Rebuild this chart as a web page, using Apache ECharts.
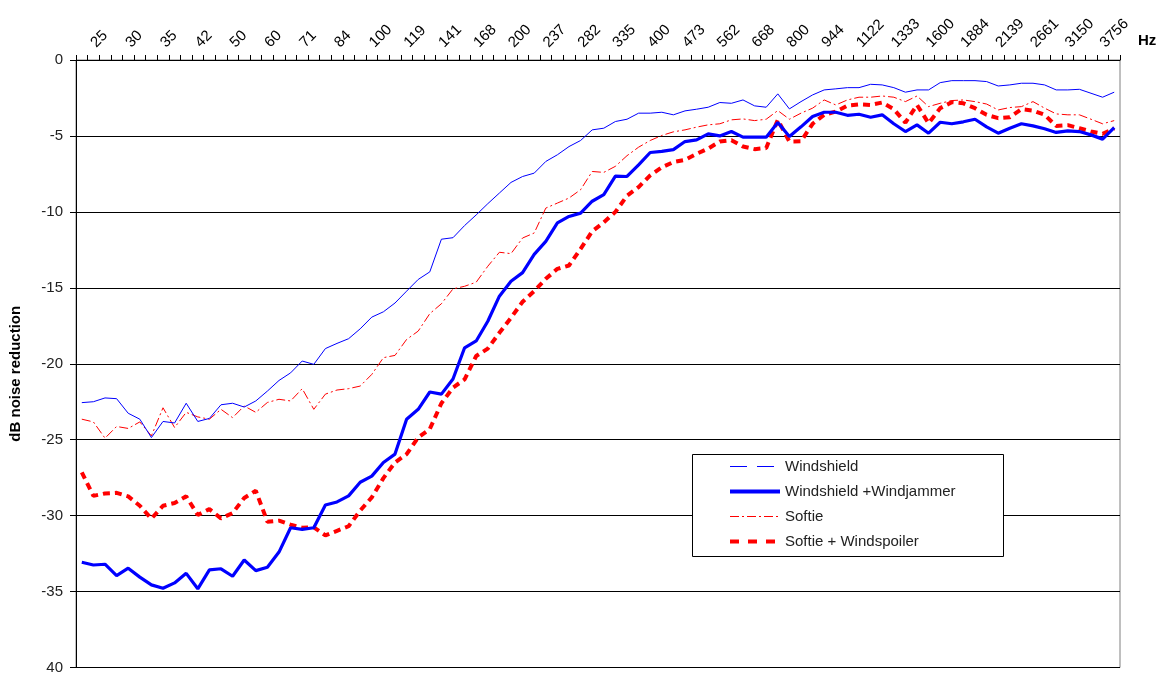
<!DOCTYPE html>
<html>
<head>
<meta charset="utf-8">
<script src="https://cdn.jsdelivr.net/npm/echarts@6/dist/echarts.min.js"></script>
<style>
html,body{margin:0;padding:0;background:#fff;}
#chart{width:1168px;height:675px;}
</style>
</head>
<body>
<div id="chart"></div>
<script>
// ---- data ----
const tickLabels = ['25','30','35','42','50','60','71','84','100','119','141','168','200','237','282','335','400','473','562','668','800','944','1122','1333','1600','1884','2139','2661','3150','3756'];
const yTickLabels = {'0':'0','-5':'-5','-10':'-10','-15':'-15','-20':'-20','-25':'-25','-30':'-30','-35':'-35','-40':'40'};
const seriesNames = ['Windshield','Windshield +Windjammer','Softie','Softie + Windspoiler'];

const windshield = [-22.56,-22.5,-22.25,-22.3,-23.26,-23.65,-24.86,-23.8,-23.9,-22.6,
 -23.8,-23.6,-22.7,-22.6,-22.85,-22.45,-21.8,-21.1,-20.6,-19.82,
 -20.04,-19.0,-18.66,-18.35,-17.7,-16.93,-16.58,-16.0,-15.22,-14.45,
 -13.95,-11.8,-11.7,-10.9,-10.2,-9.46,-8.76,-8.06,-7.67,-7.45,
 -6.68,-6.24,-5.7,-5.3,-4.6,-4.49,-4.05,-3.9,-3.5,-3.5,
 -3.44,-3.61,-3.35,-3.24,-3.11,-2.8,-2.85,-2.63,-3.02,-3.11,
 -2.23,-3.22,-2.74,-2.3,-1.97,-1.9,-1.82,-1.82,-1.6,-1.64,
 -1.82,-2.12,-1.97,-1.97,-1.49,-1.36,-1.36,-1.36,-1.42,-1.71,
 -1.64,-1.53,-1.53,-1.64,-1.97,-1.97,-1.93,-2.19,-2.45,-2.12];

const windjammer = [-33.07,-33.25,-33.2,-33.95,-33.46,-34.05,-34.56,-34.78,-34.43,-33.8,
 -34.82,-33.57,-33.5,-33.99,-32.92,-33.62,-33.4,-32.4,-30.8,-30.9,
 -30.8,-29.3,-29.1,-28.7,-27.8,-27.4,-26.5,-25.95,-23.65,-23.0,
 -21.86,-22.0,-21.0,-18.95,-18.5,-17.2,-15.55,-14.57,-14.0,-12.8,
 -11.94,-10.73,-10.3,-10.08,-9.3,-8.87,-7.65,-7.67,-6.9,-6.09,
 -6.02,-5.9,-5.37,-5.26,-4.86,-5.0,-4.71,-5.08,-5.08,-5.08,
 -4.12,-5.04,-4.4,-3.72,-3.44,-3.44,-3.64,-3.57,-3.77,-3.61,
 -4.2,-4.71,-4.27,-4.82,-4.1,-4.2,-4.07,-3.9,-4.4,-4.82,
 -4.49,-4.2,-4.34,-4.53,-4.77,-4.67,-4.71,-4.93,-5.21,-4.45];

const softie = [-23.65,-23.83,-24.9,-24.13,-24.26,-23.83,-24.75,-22.9,-24.2,-23.2,
 -23.5,-23.65,-23.0,-23.55,-22.78,-23.2,-22.55,-22.34,-22.45,-21.64,
 -23.0,-22.0,-21.73,-21.64,-21.47,-20.7,-19.6,-19.45,-18.4,-17.85,
 -16.7,-16.05,-15.07,-14.9,-14.63,-13.58,-12.66,-12.75,-11.72,-11.39,
 -9.75,-9.42,-9.09,-8.54,-7.34,-7.4,-7.0,-6.3,-5.74,-5.3,
 -4.97,-4.73,-4.6,-4.42,-4.27,-4.2,-3.94,-3.88,-3.99,-3.9,
 -3.33,-3.9,-3.5,-3.17,-2.63,-2.96,-2.63,-2.45,-2.45,-2.37,
 -2.45,-2.74,-2.37,-3.07,-2.85,-2.67,-2.63,-2.74,-2.9,-3.29,
 -3.13,-3.07,-2.74,-3.17,-3.55,-3.61,-3.61,-3.9,-4.2,-3.99];

const windspoiler = [-27.15,-28.7,-28.54,-28.5,-28.73,-29.35,-30.2,-29.35,-29.17,-28.73,
 -29.96,-29.57,-30.18,-29.83,-28.84,-28.36,-30.4,-30.33,-30.6,-30.8,
 -30.77,-31.3,-31.0,-30.7,-29.67,-28.8,-27.53,-26.5,-25.95,-24.86,
 -24.3,-22.6,-21.57,-21.03,-19.49,-19.0,-17.96,-16.97,-15.92,-15.22,
 -14.41,-13.75,-13.53,-12.44,-11.28,-10.69,-10.0,-8.94,-8.37,-7.6,
 -7.07,-6.72,-6.57,-6.18,-5.83,-5.37,-5.28,-5.7,-5.87,-5.8,
 -3.94,-5.37,-5.35,-4.2,-3.61,-3.4,-3.0,-2.92,-2.96,-2.8,
 -3.24,-4.12,-2.96,-4.16,-3.17,-2.78,-2.85,-3.17,-3.61,-3.83,
 -3.77,-3.24,-3.33,-3.61,-4.34,-4.29,-4.49,-4.71,-4.86,-4.5];

// ---- categories: 1/12-octave steps, labelled every third one ----
const freqs = tickLabels.map(Number);
function fmt(f){ return f < 100 ? String(Math.round(f*10)/10) : String(Math.round(f)); }
const categories = [fmt(freqs[0] / Math.pow(2, 1/12))];
for (let k = 0; k < freqs.length; k++) {
  categories.push(tickLabels[k]);
  if (k < freqs.length - 1) {
    const r = freqs[k+1] / freqs[k];
    categories.push(fmt(freqs[k] * Math.pow(r, 1/3)));
    categories.push(fmt(freqs[k] * Math.pow(r, 2/3)));
  } else {
    categories.push(fmt(freqs[k] * Math.pow(2, 1/12)));
  }
}
const labelSet = new Set(tickLabels);

const FONT = '"Liberation Sans", Arial, sans-serif';
const chart = echarts.init(document.getElementById('chart'), null, {renderer: 'canvas'});
chart.setOption({
  animation: false,
  backgroundColor: '#ffffff',
  textStyle: {fontFamily: FONT},
  grid: {left: 73, right: 48, top: 60, bottom: 6, show: true, borderColor: '#808080', borderWidth: 1, backgroundColor: 'transparent'},
  graphic: [{
    type: 'rect', left: 692, top: 454, z: 90,
    shape: {width: 311, height: 102},
    style: {fill: '#ffffff', stroke: '#000000', lineWidth: 1}
  }],
  legend: {
    orient: 'vertical', left: 728, top: 459, z: 100,
    itemWidth: 50, itemHeight: 14, itemGap: 10, padding: 0,
    itemStyle: {opacity: 0},
    textStyle: {fontFamily: FONT, fontSize: 15, color: '#222'},
    data: [
      {name: seriesNames[0], lineStyle: {width: 1, type: [17, 10]}},
      {name: seriesNames[1], lineStyle: {width: 4, type: 'solid'}},
      {name: seriesNames[2], lineStyle: {width: 1, type: [9, 3, 2, 3]}},
      {name: seriesNames[3], lineStyle: {width: 4, type: [9, 9]}}
    ]
  },
  xAxis: {
    type: 'category', position: 'top', boundaryGap: true, data: categories,
    name: 'Hz', nameLocation: 'end', nameGap: 18,
    nameTextStyle: {fontFamily: FONT, fontSize: 15, fontWeight: 'bold', color: '#000', verticalAlign: 'bottom', padding: [0,0,12,0]},
    axisLine: {lineStyle: {color: '#000', width: 1}},
    axisTick: {show: true, inside: false, length: 5, interval: 0, lineStyle: {color: '#000'}},
    axisLabel: {
      interval: function (i) { return labelSet.has(categories[i]) && (i % 3 === 1); },
      rotate: 45, margin: 15, fontSize: 15, color: '#000', fontFamily: FONT
    },
    splitLine: {show: false}
  },
  yAxis: {
    type: 'value', min: -40, max: 0, interval: 5,
    name: 'dB noise reduction', nameLocation: 'middle', nameGap: 53,
    nameTextStyle: {fontFamily: FONT, fontSize: 15, fontWeight: 'bold', color: '#000', padding: [0, 20, 0, 0]},
    axisLine: {show: true, lineStyle: {color: '#000', width: 1}},
    axisTick: {show: true, inside: false, length: 6, lineStyle: {color: '#000'}},
    axisLabel: {fontSize: 15, color: '#222', margin: 13, fontFamily: FONT,
      formatter: function (v) { return yTickLabels[String(v)] !== undefined ? yTickLabels[String(v)] : String(v); }},
    splitLine: {show: true, lineStyle: {color: '#000', width: 1}}
  },
  series: [
    {name: seriesNames[0], type: 'line', data: windshield, symbol: 'none', color: '#0000ff',
      lineStyle: {color: '#0000ff', width: 1, type: 'solid'}, z: 3},
    {name: seriesNames[1], type: 'line', data: windjammer, symbol: 'none', color: '#0000ff',
      lineStyle: {color: '#0000ff', width: 3.2, type: 'solid'}, z: 5},
    {name: seriesNames[2], type: 'line', data: softie, symbol: 'none', color: '#ff0000',
      lineStyle: {color: '#ff0000', width: 1, type: [9, 3, 2, 3]}, z: 2},
    {name: seriesNames[3], type: 'line', data: windspoiler, symbol: 'none', color: '#ff0000',
      lineStyle: {color: '#ff0000', width: 4, type: [7, 5]}, z: 4}
  ]
});
</script>
</body>
</html>
